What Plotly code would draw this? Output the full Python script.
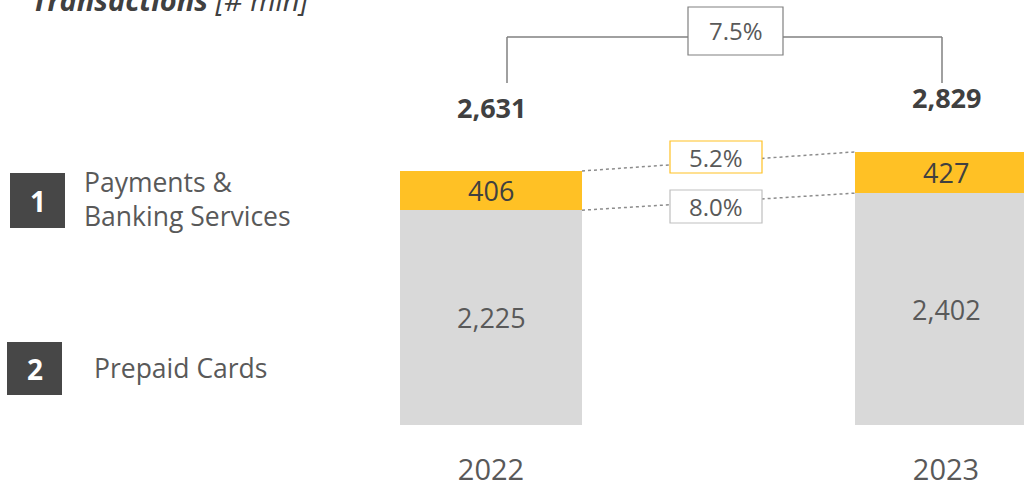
import plotly.graph_objects as go

# ---- data ----
years = ["2022", "2023"]
prepaid_cards = [2225, 2402]
payments_banking = [406, 427]
totals = [2631, 2829]
total_growth = "7.5%"
payments_growth = "5.2%"
prepaid_growth = "8.0%"
segment_names = ["Payments &<br>Banking Services", "Prepaid Cards"]
title_text = "<b><i>Transactions</i></b><i> [# mln]</i>"

W, H = 1024, 488
FONT = "Open Sans"
TXT = "#595959"
DARK = "#404040"
ORANGE = "#FFC125"
GREY = "#D9D9D9"

xpos = [0, 1]
px_per_unit = 254 / 2631.0
y_top = 425 / px_per_unit

def py(y):  # pixel y -> paper
    return 1 - y / H

def px(x):
    return x / W

fig = go.Figure()
fig.add_bar(x=xpos, y=prepaid_cards, width=0.4, marker=dict(color=GREY, line_width=0),
            name="Prepaid Cards", hoverinfo="skip")
fig.add_bar(x=xpos, y=payments_banking, width=0.4, marker=dict(color=ORANGE, line_width=0),
            name="Payments & Banking Services", hoverinfo="skip")

annotations = []

def ann(**kw):
    kw.setdefault("showarrow", False)
    kw.setdefault("xanchor", "center")
    kw.setdefault("yanchor", "middle")
    annotations.append(kw)

# segment labels
for i, x in enumerate(xpos):
    ann(x=x, y=prepaid_cards[i] / 2, xref="x", yref="y", text=f"{prepaid_cards[i]:,}",
        font=dict(family=FONT, size=27, color=TXT))
    ann(x=x, y=prepaid_cards[i] + payments_banking[i] / 2, xref="x", yref="y",
        text=f"{payments_banking[i]:,}", font=dict(family=FONT, size=27, color=DARK))
# totals
total_shift = [64, 54]
for i, x in enumerate(xpos):
    ann(x=x, y=totals[i], xref="x", yref="y", yshift=total_shift[i],
        text=f"<b>{totals[i]:,}</b>", font=dict(family=FONT, size=27, color=DARK))

# title
ann(x=px(30), y=py(21), xref="paper", yref="paper", xanchor="left", yanchor="bottom",
    text=title_text, font=dict(family=FONT, size=29, color=DARK))

# legend-like labels
ann(x=px(37.5), y=py(200.5), xref="paper", yref="paper", text="<b>1</b>",
    font=dict(family=FONT, size=28, color="white"))
ann(x=px(34.5), y=py(368.5), xref="paper", yref="paper", text="<b>2</b>",
    font=dict(family=FONT, size=28, color="white"))
ann(x=px(82), y=py(199), xref="paper", yref="paper", xanchor="left", align="left",
    text=segment_names[0], font=dict(family=FONT, size=26.5, color=TXT))
ann(x=px(92), y=py(368), xref="paper", yref="paper", xanchor="left", align="left",
    text=segment_names[1], font=dict(family=FONT, size=26.5, color=TXT))

# growth labels
ann(x=px(735.5), y=py(31), xref="paper", yref="paper", text=total_growth,
    font=dict(family=FONT, size=24, color=TXT))
ann(x=px(716), y=py(157), xref="paper", yref="paper", text=payments_growth,
    font=dict(family=FONT, size=24, color=TXT))
ann(x=px(716), y=py(206.5), xref="paper", yref="paper", text=prepaid_growth,
    font=dict(family=FONT, size=24, color=TXT))

shapes = []
# dotted connectors (data coords)
shapes.append(dict(type="line", xref="x", yref="y", x0=0.2, x1=0.8, y0=totals[0], y1=totals[1],
                   line=dict(color="#8C8C8C", width=1.5, dash="dot")))
shapes.append(dict(type="line", xref="x", yref="y", x0=0.2, x1=0.8, y0=prepaid_cards[0],
                   y1=prepaid_cards[1], line=dict(color="#8C8C8C", width=1.5, dash="dot")))
# bracket
LC = "#808080"
shapes.append(dict(type="line", xref="paper", yref="paper", x0=px(507), x1=px(507), y0=py(83), y1=py(37),
                   line=dict(color=LC, width=1.5)))
shapes.append(dict(type="line", xref="paper", yref="paper", x0=px(942), x1=px(942), y0=py(83), y1=py(37),
                   line=dict(color=LC, width=1.5)))
shapes.append(dict(type="line", xref="paper", yref="paper", x0=px(507), x1=px(942), y0=py(37), y1=py(37),
                   line=dict(color=LC, width=1.5)))
# boxes
shapes.append(dict(type="rect", xref="paper", yref="paper", x0=px(688), x1=px(783), y0=py(55), y1=py(7),
                   fillcolor="white", line=dict(color=LC, width=1.2)))
shapes.append(dict(type="rect", xref="paper", yref="paper", x0=px(670), x1=px(762), y0=py(173), y1=py(141),
                   fillcolor="white", line=dict(color=ORANGE, width=1.2)))
shapes.append(dict(type="rect", xref="paper", yref="paper", x0=px(670), x1=px(762), y0=py(223), y1=py(190),
                   fillcolor="white", line=dict(color="#BFBFBF", width=1.2)))
# number squares
shapes.append(dict(type="rect", xref="paper", yref="paper", x0=px(10), x1=px(65), y0=py(228), y1=py(173),
                   fillcolor="#474747", line=dict(width=0)))
shapes.append(dict(type="rect", xref="paper", yref="paper", x0=px(7), x1=px(62), y0=py(395), y1=py(342),
                   fillcolor="#474747", line=dict(width=0)))

fig.update_layout(
    barmode="stack",
    width=W, height=H,
    margin=dict(l=0, r=0, t=0, b=0),
    paper_bgcolor="white", plot_bgcolor="white",
    showlegend=False,
    xaxis=dict(range=[-491 / 455, 1 + 78 / 455], tickvals=xpos, ticktext=years,
               showgrid=False, zeroline=False, showline=False, ticks="",
               ticklabelstandoff=25,
               tickfont=dict(family=FONT, size=29, color=TXT), fixedrange=True),
    yaxis=dict(domain=[63 / H, 1], range=[0, y_top], visible=False, fixedrange=True),
    shapes=shapes,
    annotations=annotations,
)

fig.write_html("out.html")
